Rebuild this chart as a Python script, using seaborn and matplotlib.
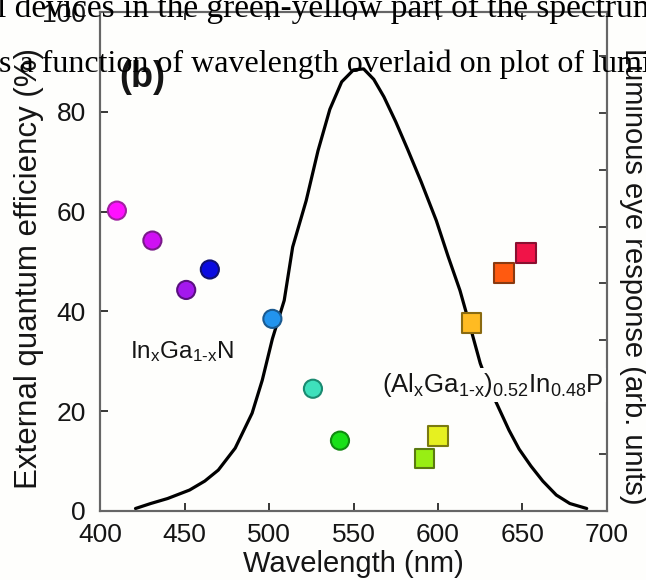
import matplotlib
matplotlib.use("Agg")
import matplotlib.pyplot as plt
import seaborn as sns
import pandas as pd

# InGaN LEDs (circles)
ingan_wl = [410, 431, 451, 465, 502, 526, 542]
ingan_eqe = [60.2, 54.2, 44.3, 48.4, 38.5, 24.5, 14.1]
ingan_fill = ["#ff10ff", "#d010f4", "#a418ee", "#0a0ae0", "#2294ee", "#3ee0bc", "#18e018"]
ingan_edge = ["#a020a0", "#7a1a8a", "#5a1080", "#101070", "#1a5a90", "#1a8a70", "#108a10"]

# AlGaInP LEDs (squares)
algainp_wl = [592, 600, 620, 639, 652]
algainp_eqe = [10.5, 15.0, 37.7, 47.7, 51.7]
algainp_fill = ["#98ee14", "#e6f020", "#ffbb22", "#ff5a10", "#f01448"]
algainp_edge = ["#5a7a10", "#7a7a10", "#8a6a10", "#8a3a10", "#8a1030"]

# luminous eye response, read in units of the left axis
eye_wl = [421, 430, 440, 453, 462, 470, 480, 490, 496, 502, 509, 514, 522, 529, 536,
          543, 550, 556, 562, 568, 575, 582, 590, 599, 606, 613, 619, 625, 630, 636,
          642, 648, 655, 662, 670, 678, 688]
eye_resp = [0.5, 1.5, 2.5, 4.2, 6.0, 8.2, 12.6, 19.6, 26.2, 34.5, 42.2, 52.9, 62.2, 72.2,
            80.5, 86.0, 88.4, 88.6, 86.5, 83.0, 78.0, 72.5, 66.0, 58.2, 51.0, 44.2, 37.0,
            29.6, 25.0, 20.6, 16.2, 12.4, 9.0, 6.0, 3.2, 1.5, 0.5]

x_ticks = [400, 450, 500, 550, 600, 650, 700]
y_ticks = [0, 20, 40, 60, 80, 100]
right_ticks = [11.4, 22.8, 34.2, 45.6, 57.0, 68.4, 79.8, 91.2]

sns.set_style("ticks")
plt.rcParams["font.family"] = ["Liberation Sans", "DejaVu Sans"]
plt.rcParams["mathtext.fontset"] = "custom"
plt.rcParams["mathtext.rm"] = "Liberation Sans"
plt.rcParams["xtick.direction"] = "in"
plt.rcParams["ytick.direction"] = "in"

ingan = pd.DataFrame({"wl": ingan_wl, "eqe": ingan_eqe, "id": range(len(ingan_wl))})
algainp = pd.DataFrame({"wl": algainp_wl, "eqe": algainp_eqe, "id": range(len(algainp_wl))})
eye = pd.DataFrame({"wl": eye_wl, "resp": eye_resp})

ink = "#151515"
fig = plt.figure(figsize=(6.46, 5.80), dpi=100, facecolor="#fefefc")
ax = fig.add_axes([100 / 646, 1 - 511 / 580, 507 / 646, 499 / 580])
ax.set_facecolor("#fefefc")
ax2 = ax.twinx()

# eye response curve on the right axis
sns.lineplot(data=eye, x="wl", y="resp", ax=ax2, color="black", linewidth=2.3, zorder=1)
ax2.set_ylim(0, 100)
ax2.set_yticks(right_ticks)
ax2.set_yticklabels([])
ax2.set_ylabel("Luminous eye response (arb. units)", fontsize=21, rotation=270,
               color=ink)
ax2.yaxis.set_label_coords(1.079, 0.47)

# points drawn above the curve
ax.set_zorder(ax2.get_zorder() + 1)
ax.patch.set_visible(False)

sns.scatterplot(data=ingan, x="wl", y="eqe", hue="id", palette=ingan_fill, ax=ax,
                s=170, marker="o", linewidth=1.5, edgecolor=ingan_edge, legend=False)
sns.scatterplot(data=algainp, x="wl", y="eqe", hue="id", palette=algainp_fill, ax=ax,
                s=195, marker="s", linewidth=1.5, edgecolor=algainp_edge, legend=False)

ax.set_xlim(400, 700)
ax.set_ylim(0, 100)
ax.set_xticks(x_ticks)
ax.set_yticks(y_ticks)
ax.tick_params(axis="both", labelsize=19, length=6, width=1.2, colors=ink, top=True)
ax.tick_params(axis="x", pad=9)
ax.tick_params(axis="y", pad=10)
ax2.tick_params(axis="y", length=6, width=1.2)
ax.set_xlabel("Wavelength (nm)", fontsize=21, labelpad=2, color=ink)
ax.set_ylabel("External quantum efficiency (%)", fontsize=22.5, color=ink)
ax.yaxis.set_label_coords(-0.11, 0.485)
for a in (ax, ax2):
    for sp in a.spines.values():
        sp.set_color("#666666")
        sp.set_linewidth(1.5)
        sp.set_visible(True)

ax.text(425, 86.8, "(b)", fontsize=26, fontweight="bold", ha="center", va="center",
        color=ink)
ax.text(418, 30.6, "$\\mathregular{In_xGa_{1\u2010x}N}$", fontsize=17.5, ha="left",
        va="baseline", color=ink)
ax2.text(567, 23.8, "$\\mathregular{(Al_xGa_{1\u2010x})_{0.52}In_{0.48}P}$", fontsize=18.5,
         ha="left", va="baseline", color=ink, zorder=5,
         bbox=dict(facecolor="#fefefc", edgecolor="none", pad=2))

# overlapping text from the scanned page
fig.text(-0.005, 1 - 17 / 580, "l devices in the green-yellow part of the spectrum",
         family=["Liberation Serif", "DejaVu Serif"], fontsize=24, ha="left",
         va="baseline", color="black")
fig.text(-0.002, 1 - 72 / 580, "s a function of wavelength overlaid on plot of lumi",
         family=["Liberation Serif", "DejaVu Serif"], fontsize=23, ha="left",
         va="baseline", color="black")

fig.savefig("out.png", dpi=100, facecolor=fig.get_facecolor())
